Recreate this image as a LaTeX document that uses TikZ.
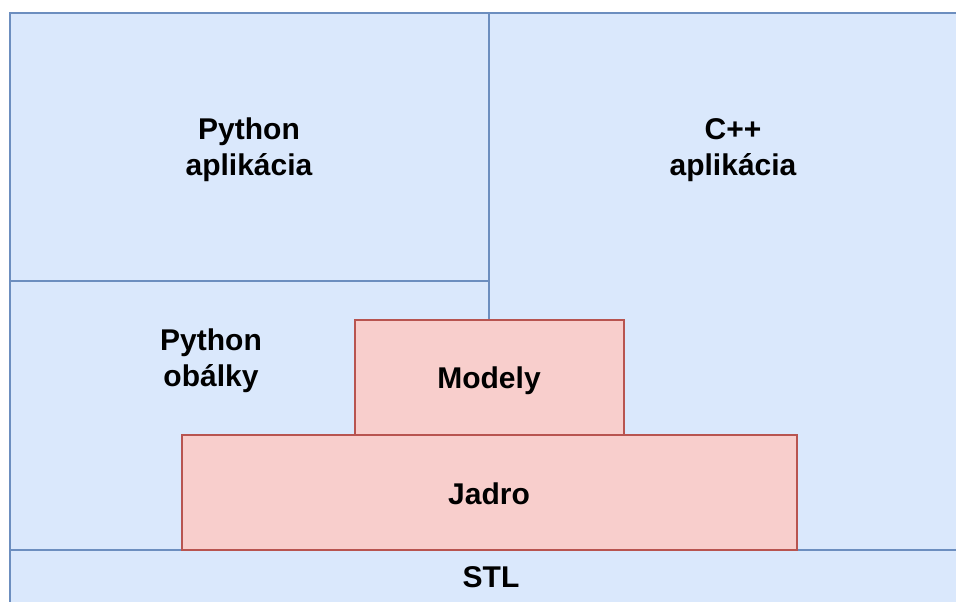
\documentclass[tikz,border=0pt]{standalone}
\usepackage{fontspec}
\setmainfont{Liberation Sans}
\usepackage{tikz}

\definecolor{layerfill}{HTML}{DAE8FC}
\definecolor{layerline}{HTML}{6C8EBF}
\definecolor{corefill}{HTML}{F8CECC}
\definecolor{coreline}{HTML}{B85450}

\tikzset{
  layer/.style={fill=layerfill, draw=layerline, line width=2pt},
  core/.style={fill=corefill, draw=coreline, line width=2pt},
  label/.style={font=\bfseries\fontsize{30}{36}\selectfont, align=center, inner sep=0pt}
}

\begin{document}
\begin{tikzpicture}[x=1pt, y=-1pt] % layers
		\useasboundingbox (0,0) rectangle (956,602);
		\begin{scope}
			\clip (0,0) rectangle (956,602);
			\filldraw [layer] (10,13) rectangle (489,281);
			\filldraw [layer] (489,13) rectangle (978,550);
			\filldraw [layer] (10,281) rectangle (489,550);
			\filldraw [layer] (10,550) rectangle (972,640);

			\filldraw [core] (355,320) rectangle (624,435);
			\filldraw [core] (182,435) rectangle (797,550);

			\node[label] (pyapp) at (249,150) {Python\\aplikácia};
			\node[label] (cppapp) at (733,150) {C++\\aplikácia};
			\node[label] (pywrap) at (211,361) {Python\\obálky};
			\node[label] (models) at (489,381) {Modely};
			\node[label] (kernel) at (489,494) {Jadro};
			\node[label] (stl) at (491,577) {STL};
		\end{scope}
\end{tikzpicture}
\end{document}
